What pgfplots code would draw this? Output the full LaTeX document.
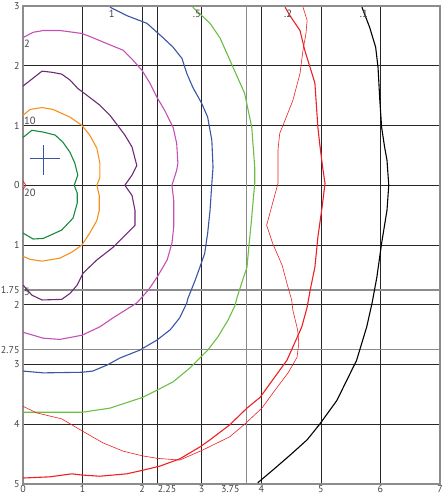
\documentclass[border=0pt]{standalone}
\usepackage{fontspec}
\setmainfont{PT Sans}
\usepackage{pgfplots}
\pgfplotsset{compat=1.18}
\definecolor{cdg}{HTML}{178A3C}
\definecolor{cor}{HTML}{F7901E}
\definecolor{cpu}{HTML}{6E2A78}
\definecolor{cpk}{HTML}{C550B4}
\definecolor{cbl}{HTML}{3A55A4}
\definecolor{clg}{HTML}{6CBF45}
\definecolor{crd}{HTML}{EE2024}
\definecolor{ctx}{HTML}{444444}
\begin{document}
\begin{tikzpicture}
\begin{axis}[
  scale only axis, width=417pt, height=478pt,
  xmin=0, xmax=7, ymin=-5, ymax=3,
  xtick={0,1,2,2.25,3,4,5,6,7},
  xticklabels={0,1,2,\makebox[0pt]{\hspace{20pt}2.25},3,4,5,6,7},
  extra x ticks={3.75},
  extra x tick labels={\makebox[0pt]{\hspace{-32pt}3.75}},
  extra x tick style={grid=major, grid style={black!45,line width=1.6pt}},
  ytick={-5,-4,-3,-2,-1,0,1,2,3},
  yticklabels={5,4,3,2,1,0,1,2,\raisebox{-5pt}{3}},
  extra y ticks={-1.75,-2.75},
  extra y tick labels={1.75,2.75},
  extra y tick style={grid=major, grid style={black!45,line width=1.6pt}},
  grid=major, grid style={black!85,line width=0.7pt},
  major tick length=0pt,
  tick label style={font=\fontsize{10}{12}\selectfont, text=ctx},
  xticklabel style={inner sep=0.8pt, yshift=-0.5pt},
  axis line style={black!45, line width=1.6pt},
  every axis plot/.append style={line width=1.1pt, line join=round, mark=none},
]
% 20
\addplot[cdg] coordinates {(0,0.80)(0.15,0.92)(0.34,0.89)(0.54,0.84)(0.67,0.72)(0.79,0.55)(0.87,0.37)(0.92,0.17)(0.86,0)(0.91,-0.13)(0.91,-0.30)(0.84,-0.55)(0.65,-0.75)(0.34,-0.89)(0.17,-0.90)(0,-0.80)};
% 10
\addplot[cor] coordinates {(0,1.17)(0.12,1.27)(0.32,1.30)(0.50,1.27)(0.79,1.14)(0.99,1.00)(1.12,0.84)(1.24,0.62)(1.29,0.37)(1.29,0.13)(1.24,0)(1.28,-0.17)(1.28,-0.42)(1.24,-0.59)(1.12,-0.80)(0.99,-1.00)(0.82,-1.12)(0.62,-1.22)(0.32,-1.27)(0.12,-1.24)(0,-1.19)};
% 5
\addplot[cpu] coordinates {(0,1.66)(0.32,1.91)(0.49,1.89)(0.65,1.86)(0.79,1.76)(0.92,1.62)(1.12,1.47)(1.29,1.34)(1.46,1.17)(1.59,1.00)(1.71,0.84)(1.83,0.64)(1.90,0.37)(1.91,0.33)(1.83,0.17)(1.71,0)(1.83,-0.17)(1.88,-0.42)(1.88,-0.67)(1.71,-0.84)(1.51,-1.04)(1.24,-1.25)(1.01,-1.47)(0.91,-1.67)(0.79,-1.81)(0.65,-1.91)(0.32,-1.92)(0.15,-1.84)(0,-1.67)};
% 2
\addplot[cpk] coordinates {(0,2.47)(0.17,2.56)(0.34,2.59)(0.62,2.59)(0.99,2.54)(1.17,2.47)(1.41,2.37)(1.68,2.26)(1.85,2.09)(2.00,1.92)(2.13,1.71)(2.25,1.47)(2.38,1.25)(2.52,0.97)(2.58,0.70)(2.60,0.37)(2.58,0.25)(2.50,0)(2.53,-0.25)(2.53,-0.70)(2.50,-0.97)(2.42,-1.25)(2.25,-1.54)(2.10,-1.76)(1.91,-1.97)(1.51,-2.22)(1.29,-2.37)(0.99,-2.51)(0.62,-2.58)(0.34,-2.56)(0,-2.46)};
% 1
\addplot[cbl] coordinates {(1.46,2.98)(1.74,2.84)(2.08,2.71)(2.35,2.47)(2.52,2.31)(2.67,2.12)(2.75,1.87)(2.85,1.64)(3.00,1.37)(3.10,1.14)(3.17,0.75)(3.19,0.30)(3.17,0.03)(3.14,-0.42)(3.10,-0.80)(3.05,-1.14)(2.97,-1.37)(2.89,-1.59)(2.77,-1.89)(2.75,-1.97)(2.63,-2.22)(2.47,-2.42)(2.25,-2.59)(1.96,-2.76)(1.63,-2.89)(1.41,-3.01)(1.17,-3.11)(0.99,-3.13)(0.34,-3.14)(0,-3.11)};
% .5
\addplot[clg] coordinates {(2.85,2.98)(3.14,2.71)(3.31,2.46)(3.51,2.01)(3.72,1.54)(3.84,0.97)(3.89,0.30)(3.89,0.03)(3.86,-0.30)(3.83,-0.64)(3.79,-1.04)(3.76,-1.37)(3.67,-1.64)(3.59,-1.89)(3.56,-2.01)(3.44,-2.26)(3.27,-2.54)(3.10,-2.76)(2.97,-2.89)(2.80,-3.06)(2.52,-3.29)(2.25,-3.43)(2.01,-3.55)(1.46,-3.73)(0.99,-3.80)(0,-3.80)};
% .2 thick
\addplot[crd] coordinates {(4.40,2.98)(4.48,2.84)(4.65,2.59)(4.73,2.26)(4.90,1.71)(4.95,0.97)(4.98,0.70)(5.03,0.30)(5.07,0.03)(5.02,-0.37)(4.95,-0.87)(4.90,-1.37)(4.82,-1.76)(4.77,-2.04)(4.68,-2.37)(4.56,-2.64)(4.43,-2.93)(4.19,-3.26)(3.98,-3.55)(3.76,-3.73)(3.47,-4.01)(3.14,-4.26)(2.97,-4.38)(2.63,-4.58)(2.30,-4.70)(2.01,-4.77)(1.74,-4.83)(1.29,-4.87)(0.99,-4.85)(0.82,-4.83)(0.45,-4.88)(0,-4.90)};
% .2 thin
\addplot[crd, line width=0.6pt] coordinates {(4.70,2.98)(4.77,2.76)(4.75,2.54)(4.70,2.26)(4.65,1.87)(4.53,1.42)(4.40,1.09)(4.31,0.87)(4.28,0.59)(4.28,0.03)(4.19,-0.30)(4.09,-0.67)(4.19,-0.97)(4.35,-1.34)(4.43,-1.64)(4.51,-1.92)(4.53,-2.09)(4.61,-2.42)(4.63,-2.64)(4.60,-2.88)(4.45,-3.14)(4.23,-3.43)(4.01,-3.73)(3.72,-4.00)(3.47,-4.21)(3.02,-4.43)(2.63,-4.60)(2.25,-4.57)(2.01,-4.53)(1.68,-4.45)(1.34,-4.31)(0.99,-4.11)(0.65,-3.91)(0.23,-3.81)(0,-3.70)};
% .1
\addplot[black] coordinates {(5.69,2.98)(5.82,2.64)(5.92,2.31)(5.96,1.97)(5.99,1.42)(6.02,0.97)(6.07,0.64)(6.11,0.42)(6.14,0)(6.11,-0.42)(6.02,-0.97)(5.94,-1.54)(5.86,-1.97)(5.77,-2.37)(5.60,-2.93)(5.27,-3.60)(4.98,-4.00)(4.77,-4.26)(4.48,-4.52)(4.19,-4.77)(3.94,-4.98)};
% small red mark near origin
\addplot[crd, line width=0.7pt] coordinates {(0,0.07)(0.05,0)(0,-0.07)};
% cross
\addplot[cbl, line width=1.1pt] coordinates {(0.12,0.45)(0.62,0.45)};
\addplot[cbl, line width=1.1pt] coordinates {(0.35,0.67)(0.35,0.17)};
% contour labels
\node[font=\fontsize{10.5}{12}\selectfont, text=ctx] at (axis cs:1.49,2.87) {1};
\node[font=\fontsize{10.5}{12}\selectfont, text=ctx] at (axis cs:2.92,2.87) {.5};
\node[font=\fontsize{10.5}{12}\selectfont, text=ctx] at (axis cs:4.45,2.87) {.2};
\node[font=\fontsize{10.5}{12}\selectfont, text=ctx] at (axis cs:5.72,2.87) {.1};
\node[font=\fontsize{10.5}{12}\selectfont, text=ctx, anchor=west, inner sep=1pt] at (axis cs:0,2.37) {2};
\node[font=\fontsize{10.5}{12}\selectfont, text=ctx, anchor=west, inner sep=1pt] at (axis cs:0,1.07) {10};
\node[font=\fontsize{10.5}{12}\selectfont, text=ctx, anchor=west, inner sep=1pt] at (axis cs:0,-0.12) {20};
\node[font=\fontsize{10.5}{12}\selectfont, text=ctx, anchor=west, inner sep=1pt] at (axis cs:0,-1.79) {5};
\end{axis}
\pgfresetboundingbox
\path (current axis.south west) ++(-23pt,-11pt) rectangle ++(442pt,495pt);
\end{tikzpicture}
\end{document}
